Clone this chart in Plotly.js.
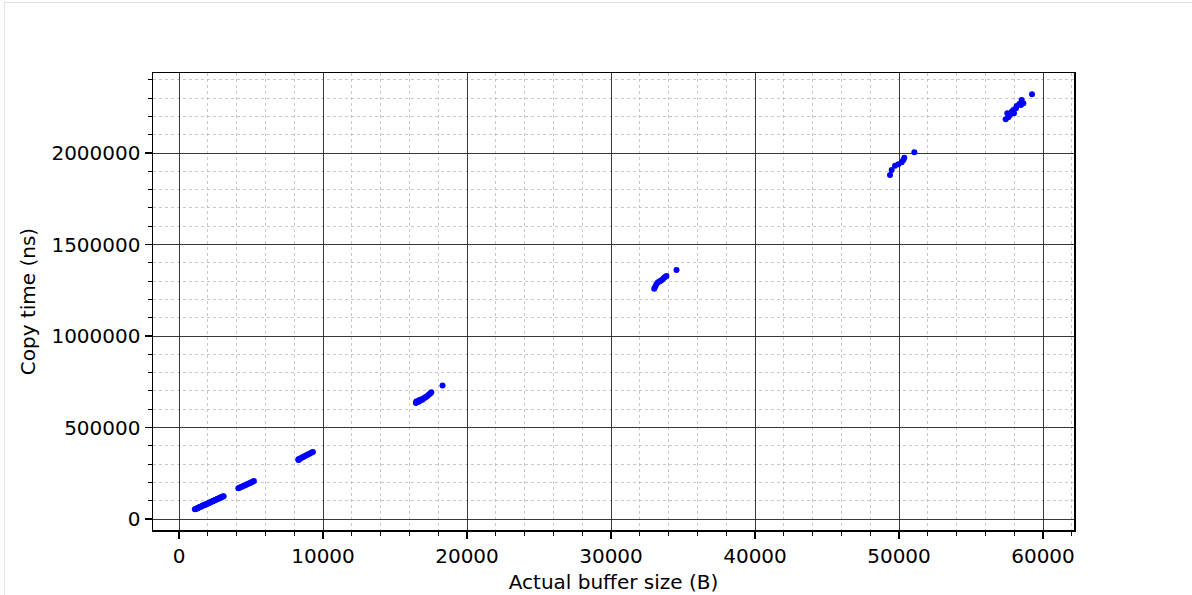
<!DOCTYPE html>
<html>
<head>
<meta charset="utf-8">
<script src="https://cdn.plot.ly/plotly-3.0.1.min.js"></script>
<style>
html,body{margin:0;padding:0;background:#fff;}
#wrap{position:relative;width:1192px;height:595px;}
#frame{position:absolute;left:4px;top:2px;width:1188px;height:593px;border-left:1px solid #e2e2e2;border-top:1px solid #e2e2e2;pointer-events:none;}
</style>
</head>
<body>
<div id="wrap"><div id="chart" style="width:1192px;height:595px;"></div><div id="frame"></div></div>
<script>
// Actual buffer size (B)
var bufferSize = [
  1100,1150,1200,1250,1300,1350,1400,1450,1500,1550,1600,1650,1700,1750,1800,1850,1900,1950,2000,2050,
  2100,2150,2200,2250,2300,2350,2400,2450,2500,2550,2600,2650,2700,2750,2800,2850,2900,2950,3000,3050,3100,
  4120,4200,4300,4400,4500,4600,4700,4800,4900,5000,5100,5200,
  8290,8300,8350,8400,8500,8600,8700,8800,8900,9000,9100,9200,9300,
  16450,16480,16520,16600,16650,16700,16750,16850,16900,17000,17100,17150,17250,17350,17450,17520,18300,
  33000,33080,33150,33250,33350,33450,33550,33650,33750,33850,34550,
  49375,49491,49722,49954,50185,50301,50370,51065,
  57407,57593,57523,57708,57824,57940,57986,58125,58171,58356,58518,58472,58634,59236
];
// Copy time (ns)
var copyTime = [
  52600,54300,56300,57800,59500,61900,63800,65200,67100,68600,70500,72800,74600,75900,77700,79900,81800,83300,85200,86700,
  88400,90800,92900,94200,95800,97900,99700,101600,103400,104800,106600,108900,110800,112100,113600,115900,117900,119500,121300,123100,124800,
  167800,170500,174300,177600,181400,184900,188300,192100,195600,199200,203300,207400,
  322400,327000,325500,330100,333800,338600,341800,346500,350200,354900,358300,362800,366600,
  634000,642000,638500,645000,641000,650000,647000,655000,651000,660000,664000,668000,672000,680000,686000,693000,730000,
  1258000,1270000,1283000,1293000,1298000,1302000,1308000,1315000,1322000,1328000,1361000,
  1879800,1907100,1930800,1938000,1949000,1961700,1974500,2003600,
  2184000,2194900,2216700,2207700,2225900,2235000,2216700,2244100,2256800,2267800,2289600,2262300,2271400,2320600
];

var trace = {
  x: bufferSize,
  y: copyTime,
  type: 'scatter',
  mode: 'markers',
  marker: {color: '#0000ff', size: 6, line: {width: 0}},
  hoverinfo: 'x+y'
};

var fontFam = 'DejaVu Sans, sans-serif';
var layout = {
  width: 1192,
  height: 595,
  margin: {l: 153, r: 118, t: 73, b: 65, pad: 0},
  paper_bgcolor: '#ffffff',
  plot_bgcolor: '#ffffff',
  showlegend: false,
  font: {family: fontFam, size: 20, color: '#000'},
  xaxis: {
    range: [-1806, 62153],
    tick0: 0, dtick: 10000,
    tickformat: 'd',
    ticks: 'outside', ticklen: 7, tickwidth: 1.2, tickcolor: '#000',
    showline: true, linecolor: '#000', linewidth: 1.5, mirror: true,
    showgrid: true, gridcolor: '#222', gridwidth: 0.9,
    zeroline: true, zerolinecolor: '#222', zerolinewidth: 0.9,
    minor: {dtick: 2000, ticks: 'outside', ticklen: 4, tickwidth: 1, tickcolor: '#000',
            showgrid: true, gridcolor: '#bcbcbc', gridwidth: 0.8, griddash: 'dot'},
    tickfont: {family: fontFam, size: 20, color: '#000'},
    title: {text: 'Actual buffer size (B)', font: {family: fontFam, size: 20, color: '#000'}, standoff: 8},
    automargin: false
  },
  yaxis: {
    range: [-60109, 2437158],
    tick0: 0, dtick: 500000,
    tickformat: 'd',
    ticks: 'outside', ticklen: 7, tickwidth: 1.2, tickcolor: '#000',
    showline: true, linecolor: '#000', linewidth: 1.5, mirror: true,
    showgrid: true, gridcolor: '#222', gridwidth: 0.9,
    zeroline: true, zerolinecolor: '#222', zerolinewidth: 0.9,
    minor: {dtick: 100000, ticks: 'outside', ticklen: 4, tickwidth: 1, tickcolor: '#000',
            showgrid: true, gridcolor: '#bcbcbc', gridwidth: 0.8, griddash: 'dot'},
    tickfont: {family: fontFam, size: 20, color: '#000'},
    title: {text: 'Copy time (ns)', font: {family: fontFam, size: 20, color: '#000'}, standoff: 10},
    automargin: false
  }
};

Plotly.newPlot('chart', [trace], layout, {displayModeBar: false, staticPlot: true});
</script>
</body>
</html>
